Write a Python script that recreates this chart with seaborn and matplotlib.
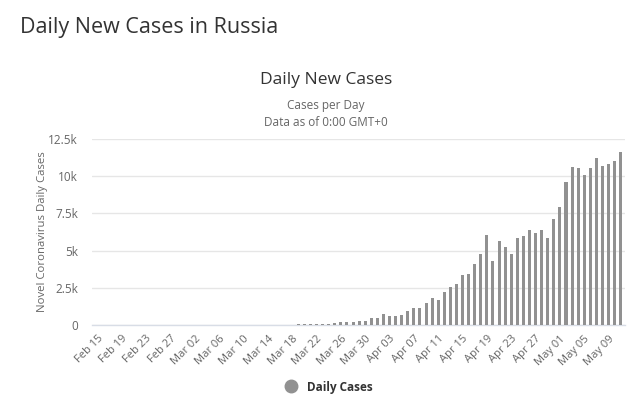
import matplotlib
matplotlib.use("Agg")
import matplotlib.pyplot as plt
import seaborn as sns
import pandas as pd
import numpy as np
from matplotlib.lines import Line2D

start = pd.Timestamp("2020-02-15")
end = pd.Timestamp("2020-05-11")
dates = pd.date_range(start, end, freq="D")
date_labels = [d.strftime("%b %d") for d in dates]

daily_cases = [
    0, 0, 0, 0, 0, 0, 0, 0, 0, 0, 0, 0, 0, 0, 0,          # Feb 15 - Feb 29
    0, 1, 0, 0, 1, 6, 4, 3, 0, 3, 8, 6, 11, 14, 4,        # Mar 01 - Mar 15
    30, 21, 33, 52, 54, 53, 61, 71, 57, 163, 182, 196,    # Mar 16 - Mar 27
    228, 270, 302, 501,                                   # Mar 28 - Mar 31
    440, 771, 601, 582, 658, 954, 1154, 1175, 1459, 1786, # Apr 01 - Apr 10
    1667, 2186, 2558, 2774, 3388, 3448, 4070, 4785, 6060, # Apr 11 - Apr 19
    4268, 5642, 5236, 4774, 5849, 5966, 6361, 6198, 6411, # Apr 20 - Apr 28
    5841, 7099,                                           # Apr 29 - Apr 30
    7933, 9623, 10633, 10581, 10102, 10559, 11231, 10699, # May 01 - May 08
    10817, 11012, 11656,                                  # May 09 - May 11
]

df = pd.DataFrame({"date": date_labels, "cases": daily_cases})

sns.set_theme(style="white")
plt.rcParams["font.family"] = ["Open Sans", "DejaVu Sans"]

fig = plt.figure(figsize=(6.4, 4.08), dpi=100)
ax = fig.add_axes([92 / 640, 1 - 325 / 408, (625 - 92) / 640, (325 - 139) / 408])

sns.barplot(data=df, x="date", y="cases", color="#919191", saturation=1,
            width=0.5, ax=ax, zorder=3, linewidth=0)

ax.set_ylim(0, 12500)
yticks = [0, 2500, 5000, 7500, 10000, 12500]
ytick_labels = ["0", "2.5k", "5k", "7.5k", "10k", "12.5k"]
ax.set_yticks(yticks)
ax.set_yticklabels(ytick_labels, color="#666666", fontsize=8.5)
ax.yaxis.grid(True, color="#e6e6e6", linewidth=1, zorder=0)
ax.set_xlim(-0.9, len(dates) - 0.3)

tick_idx = list(range(0, len(dates), 4))
ax.set_xticks(tick_idx)
ax.set_xticklabels([date_labels[i] for i in tick_idx], rotation=45, ha="right",
                   rotation_mode="anchor", color="#666666", fontsize=8)
ax.tick_params(axis="both", length=0, pad=6)
ax.tick_params(axis="y", pad=10)

for s in ["top", "right", "left"]:
    ax.spines[s].set_visible(False)
ax.spines["bottom"].set_color("#d8dde6")
ax.spines["bottom"].set_linewidth(1)

ax.set_xlabel("")
ax.set_ylabel("Novel Coronavirus Daily Cases", color="#666666", fontsize=8.2, labelpad=0)

fig.text(20 / 640, 1 - 28 / 408, "Daily New Cases in Russia", fontsize=15.5,
         color="#333333", va="center", ha="left")
fig.text(326 / 640, 1 - 80 / 408, "Daily New Cases", fontsize=12.5,
         color="#333333", va="center", ha="center")
fig.text(326 / 640, 1 - 106 / 408, "Cases per Day", fontsize=8.5,
         color="#666666", va="center", ha="center")
fig.text(326 / 640, 1 - 122 / 408, "Data as of 0:00 GMT+0", fontsize=8.5,
         color="#666666", va="center", ha="center")

handle = Line2D([0], [0], marker="o", color="none", markerfacecolor="#919191",
                markeredgecolor="#919191", markersize=9)
leg = fig.legend([handle], ["Daily Cases"], loc="center",
                 bbox_to_anchor=(326 / 640, 1 - 387 / 408), frameon=False,
                 prop={"weight": "bold", "size": 8.5}, handletextpad=0.3)
for t in leg.get_texts():
    t.set_color("#333333")

fig.savefig("out.png", dpi=100, facecolor="white")
